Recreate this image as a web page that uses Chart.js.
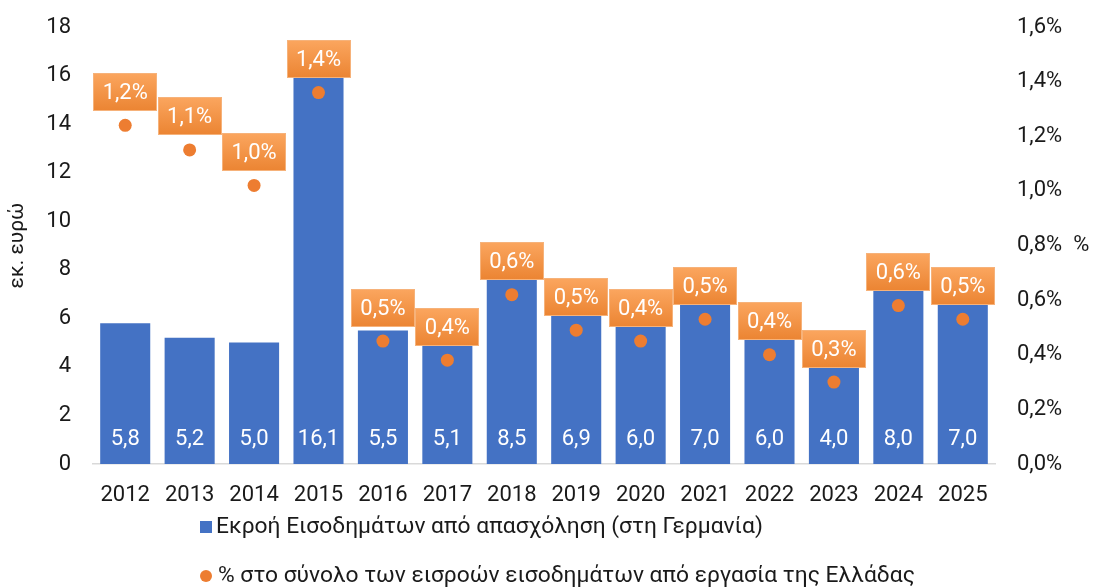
<!DOCTYPE html>
<html><head><meta charset="utf-8">
<script src="https://cdn.jsdelivr.net/npm/chart.js@4.4.0/dist/chart.umd.min.js"></script>
<style>html,body{margin:0;padding:0;background:#fff;}#wrap{width:1099px;height:588px;position:relative;}</style>
</head><body><div id="wrap"><canvas id="c"></canvas></div>
<script>
const years = ['2012','2013','2014','2015','2016','2017','2018','2019','2020','2021','2022','2023','2024','2025'];
const outflowValues = [5.8, 5.2, 5.0, 16.1, 5.5, 5.1, 8.5, 6.9, 6.0, 7.0, 6.0, 4.0, 8.0, 7.0];
const outflowLabels = ['5,8','5,2','5,0','16,1','5,5','5,1','8,5','6,9','6,0','7,0','6,0','4,0','8,0','7,0'];
const sharePct = [1.24, 1.15, 1.02, 1.36, 0.45, 0.38, 0.62, 0.49, 0.45, 0.53, 0.40, 0.30, 0.58, 0.53];
const shareLabels = ['1,2%','1,1%','1,0%','1,4%','0,5%','0,4%','0,6%','0,5%','0,4%','0,5%','0,4%','0,3%','0,6%','0,5%'];
const leftTicks = [0, 2, 4, 6, 8, 10, 12, 14, 16, 18];
const rightTicks = [0, 0.2, 0.4, 0.6, 0.8, 1.0, 1.2, 1.4, 1.6];
const rightTickLabels = ['0,0%','0,2%','0,4%','0,6%','0,8%','1,0%','1,2%','1,4%','1,6%'];
const barLabel = 'Εκροή Εισοδημάτων από απασχόληση (στη Γερμανία)';
const pointLabel = '% στο σύνολο των εισροών εισοδημάτων από εργασία της Ελλάδας';
const leftTitle = 'εκ. ευρώ';
const rightTitle = '%';

const FONT = 'Roboto, "Liberation Sans", sans-serif';
const FS = 22;
const LFS = 22.8;
const TXT = '#1a1a1a';
const BLUE = '#4472C4';
const ORANGE = '#ED7D31';

const overlay = {
  id: 'overlay',
  afterDatasetsDraw(chart) {
    const ctx = chart.ctx;
    ctx.save();
    ctx.font = FS + 'px ' + FONT;
    ctx.textAlign = 'center';
    ctx.textBaseline = 'middle';
    ctx.fillStyle = '#fff';
    chart.getDatasetMeta(0).data.forEach((bar, i) => {
      ctx.fillText(outflowLabels[i], bar.x, bar.base - 25);
    });
    chart.getDatasetMeta(1).data.forEach((pt, i) => {
      const w = 64, h = 38;
      const x0 = Math.round(pt.x - w / 2);
      const y1 = Math.round(pt.y - 14.5);
      const y0 = y1 - h;
      const g = ctx.createLinearGradient(0, y0, 0, y1);
      g.addColorStop(0, '#FBA65F');
      g.addColorStop(1, '#EB8432');
      ctx.fillStyle = g;
      ctx.fillRect(x0, y0, w, h);
      ctx.strokeStyle = '#F6B27A';
      ctx.lineWidth = 1;
      ctx.strokeRect(x0 + 0.5, y0 + 0.5, w - 1, h - 1);
      ctx.fillStyle = '#fff';
      ctx.fillText(shareLabels[i], pt.x, y0 + h / 2 + 1);
    });
    ctx.restore();
  },
  afterDraw(chart) {
    const ctx = chart.ctx;
    ctx.save();
    ctx.font = FS + 'px ' + FONT;
    ctx.textBaseline = 'middle';
    ctx.textAlign = 'left';
    const y1 = chart.scales.y1;
    const tickW = ctx.measureText('0,8%').width;
    ctx.fillStyle = TXT;
    ctx.fillText(rightTitle, y1.left + 22 + tickW + 11, y1.getPixelForValue(0.8));
    ctx.font = LFS + 'px ' + FONT;
    const ds = chart.data.datasets;
    ctx.fillStyle = ds[0].backgroundColor;
    ctx.fillRect(200, 521, 12, 12);
    ctx.fillStyle = TXT;
    ctx.fillText(ds[0].label, 216, 527);
    ctx.fillStyle = ds[1].backgroundColor;
    ctx.beginPath(); ctx.arc(206, 576, 6, 0, Math.PI * 2); ctx.fill();
    ctx.fillStyle = TXT;
    ctx.fillText(ds[1].label, 218, 576);
    ctx.restore();
  }
};

function noPadV(s) { s.paddingTop = 0; s.paddingBottom = 0; }

new Chart(document.getElementById('c'), {
  data: {
    labels: years,
    datasets: [
      { type: 'bar', label: barLabel, data: outflowValues, backgroundColor: BLUE,
        yAxisID: 'y', order: 2, barPercentage: 0.777, categoryPercentage: 1 },
      { type: 'line', label: pointLabel, data: sharePct, backgroundColor: ORANGE, borderColor: ORANGE,
        showLine: false, pointRadius: 6.5, pointHoverRadius: 6.5, pointBorderWidth: 0,
        yAxisID: 'y1', order: 1 }
    ]
  },
  options: {
    responsive: true, maintainAspectRatio: false, animation: false,
    layout: { padding: { top: 27, bottom: 0, left: 0, right: 0 } },
    plugins: { legend: { display: false }, tooltip: { enabled: false } },
    scales: {
      x: {
        grid: { display: false, drawTicks: false },
        border: { display: true, color: '#D9D9D9', width: 1.5 },
        ticks: { font: { family: FONT, size: FS }, color: TXT, padding: 18, maxRotation: 0 },
        afterFit(s) { s.height = 124; s.paddingLeft = 0; s.paddingRight = 0; }
      },
      y: {
        position: 'left', min: 0, max: 18,
        grid: { display: false, drawTicks: false },
        border: { display: false },
        ticks: { font: { family: FONT, size: FS }, color: TXT, padding: 22 },
        afterBuildTicks(s) { s.ticks = leftTicks.map(v => ({ value: v })); },
        title: { display: true, text: leftTitle, font: { family: FONT, size: 21 }, color: TXT, padding: { top: 5, bottom: 0 } },
        afterFit(s) { s.width = 93; noPadV(s); }
      },
      y1: {
        position: 'right', min: 0, max: 1.6,
        grid: { display: false, drawTicks: false },
        border: { display: false },
        ticks: { font: { family: FONT, size: FS }, color: TXT, padding: 22,
          callback: (v) => { const k = rightTicks.findIndex(t => Math.abs(t - v) < 1e-6); return k >= 0 ? rightTickLabels[k] : ''; } },
        afterBuildTicks(s) { s.ticks = rightTicks.map(v => ({ value: v })); },
        afterFit(s) { s.width = 104; noPadV(s); }
      }
    }
  },
  plugins: [overlay]
});
</script></body></html>
